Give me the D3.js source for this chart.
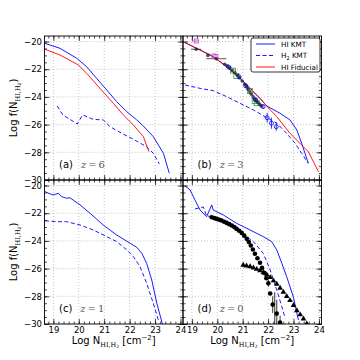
<!DOCTYPE html>
<html>
<head>
<meta charset="utf-8">
<script src="https://cdn.jsdelivr.net/npm/d3@7"></script>
<style>
  html, body { margin: 0; padding: 0; background: #fff; }
  text { font-family: "DejaVu Sans", sans-serif; }
</style>
</head>
<body>
<div id="chart"></div>
<script>
// axis ticks
const xTicks = [19, 20, 21, 22, 23, 24];
const yTicks = [-30, -28, -26, -24, -22, -20];

// panel (a) z=6
const aHiKmt = [[18.67,-20.13],[19.26,-20.49],[19.92,-21.21],[20.31,-21.82],[20.7,-22.66],[21.1,-23.5],[21.49,-24.34],[21.89,-25.07],[22.28,-25.66],[22.54,-26.1],[22.93,-26.87],[23.33,-28.07],[23.56,-29.51]];
const aH2Kmt = [[19.15,-24.65],[19.37,-25.3],[19.94,-25.95],[20.15,-25.3],[20.57,-25.62],[20.96,-25.66],[21.23,-26.15],[21.69,-26.63],[22.15,-27.06],[22.67,-27.6],[22.93,-28.07],[23.17,-28.84]];
const aHiFid = [[18.67,-20.56],[19.26,-20.97],[19.98,-21.69],[20.37,-22.42],[20.83,-23.38],[21.36,-24.46],[21.75,-25.3],[22.15,-26.03],[22.54,-26.87],[22.76,-27.95]];

// panel (b) z=3
const bHiKmt = [[18.73,-20.08],[19.32,-20.61],[19.84,-21.09],[20.37,-21.82],[20.89,-22.65],[21.35,-23.5],[21.68,-24.1],[21.94,-24.65],[22.47,-25.18],[22.86,-25.66],[23.13,-26.39],[23.32,-27.35],[23.45,-28.07],[23.58,-28.79]];
const bH2Kmt = [[18.73,-23.14],[19.32,-23.38],[19.84,-23.55],[20.37,-23.98],[20.89,-24.46],[21.42,-24.94],[21.88,-25.43],[22.34,-25.9],[22.73,-26.63],[23.06,-27.35],[23.32,-28.07],[23.58,-28.79]];
const bHiFid = [[18.73,-20.08],[19.32,-20.61],[19.84,-21.09],[20.37,-21.82],[20.89,-22.65],[21.35,-23.5],[21.68,-24.1],[21.94,-24.65],[22.34,-25.43],[22.86,-26.63],[23.39,-27.6],[23.58,-27.95],[23.98,-29.4]];
const bObsSquares = [[19.17,-19.96,0.12],[19.87,-21.04,0],[19.95,-21.1,0]];
const bObsBlack = [[19.17,-20.56,0.2],[19.63,-21.0,0],[19.96,-21.24,0.4],[20.29,-21.64,0],[20.39,-21.76,0],[20.49,-21.89,0],[20.59,-22.07,0],[20.69,-22.25,0],[20.79,-22.43,0],[20.88,-22.61,0],[20.98,-22.85,0],[21.08,-23.09,0],[21.15,-23.27,0],[21.21,-23.45,0],[21.28,-23.63,0],[21.34,-23.81,0],[21.41,-23.99,0],[21.47,-24.17,0],[21.54,-24.3,0],[21.6,-24.42,0],[21.67,-24.54,0],[21.73,-24.65,0]];
const bObsGreen = [[20.62,-22.1],[20.75,-22.49],[21.28,-23.57],[21.47,-24.3],[21.55,-24.45]];
const bObsBlue = [[20.45,-21.85,0.05],[20.85,-22.55,0.05],[21.12,-23.2,0.08],[21.5,-24.2,0.1],[21.8,-24.7,0.15],[21.96,-25.5,0.36],[22.13,-25.9,0.4],[22.32,-26.15,0.3]];

// panel (c) z=1
const cHiKmt = [[18.67,-20.44],[18.87,-20.6],[19.0,-20.68],[19.19,-20.56],[19.33,-20.8],[19.52,-20.92],[19.65,-20.88],[20.05,-21.4],[20.44,-22.0],[20.96,-22.85],[21.49,-23.57],[22.02,-24.17],[22.28,-24.46],[22.48,-24.9],[22.67,-25.62],[22.87,-26.82],[23.07,-28.5],[23.29,-30.0]];
const cH2Kmt = [[18.67,-22.54],[19.13,-22.61],[19.52,-22.61],[20.05,-22.85],[20.57,-23.21],[21.1,-23.69],[21.49,-24.05],[21.89,-24.65],[22.15,-25.14],[22.41,-25.86],[22.67,-27.06],[22.93,-28.5],[23.13,-29.71]];

// panel (d) z=0
const dHiKmt = [[18.73,-20.03],[18.93,-20.32],[19.12,-21.04],[19.32,-21.77],[19.58,-22.25],[19.78,-21.4],[19.84,-21.77],[20.24,-22.13],[20.76,-22.73],[21.29,-23.21],[21.81,-23.69],[22.14,-24.05],[22.34,-24.65],[22.54,-25.62],[22.73,-26.58],[22.99,-28.03],[23.19,-29.71]];
const dH2Kmt = [[19.12,-21.69],[19.45,-21.55],[19.58,-22.2],[19.84,-22.25],[20.37,-22.73],[20.89,-23.33],[21.42,-24.05],[21.81,-24.9],[22.08,-26.1],[22.34,-27.55],[22.54,-28.75],[22.67,-29.59]];
const dObsHi = [[19.78,-22.29],[19.88,-22.35],[19.98,-22.41],[20.08,-22.47],[20.17,-22.53],[20.27,-22.61],[20.37,-22.7],[20.47,-22.79],[20.57,-22.89],[20.67,-23.0],[20.76,-23.13],[20.86,-23.27],[20.96,-23.42],[21.06,-23.62],[21.16,-23.85],[21.24,-24.08],[21.32,-24.33],[21.4,-24.62],[21.48,-24.93],[21.58,-25.25],[21.68,-25.58],[21.76,-25.95],[21.85,-26.31],[21.93,-26.7],[22.01,-27.06],[22.08,-27.8],[22.18,-28.6],[22.34,-29.25],[22.47,-29.9]];
const dObsHiErr = [[22.01,-27.06,0.25],[22.18,-28.6,0.6],[22.26,-28.9,1.2],[22.34,-29.25,1.0],[22.47,-29.9,0.5]];
const dObsH2 = [[21.02,-25.75],[21.15,-25.8],[21.29,-25.85],[21.42,-25.94],[21.55,-26.04],[21.68,-26.15],[21.81,-26.28],[21.95,-26.45],[22.08,-26.64],[22.21,-26.87],[22.34,-27.12],[22.47,-27.4],[22.6,-27.7],[22.73,-28.0],[22.86,-28.3],[23.0,-28.65],[23.13,-29.03],[23.26,-29.33],[23.39,-29.63],[23.52,-29.98],[23.65,-30.35]];

const legendLabels = ['HI KMT', 'H2 KMT', 'HI Fiducial'];

const W = 360, H = 360;
const blue = '#0000ff', red = '#ff0000';
const svg = d3.select('#chart').append('svg').attr('width', W).attr('height', H);

const colX = [44.5, 183];
const rowY = [36, 180];
const pw = 138.5, ph = 144;

const x = d3.scaleLinear().domain([18.65, 24.1]).range([0, pw]);
const y = d3.scaleLinear().domain([-30, -19.6]).range([ph, 0]);
const line = d3.line().x(d => x(d[0])).y(d => y(d[1]));

const xMinor = d3.range(18.8, 24.1, 0.2).map(v => +v.toFixed(1));
const yMinor = d3.range(-30, -19.5, 0.5);

const panels = [
  { tag: '(a)', z: '6', col: 0, row: 0, hi: aHiKmt, h2: aH2Kmt, fid: aHiFid },
  { tag: '(b)', z: '3', col: 1, row: 0, hi: bHiKmt, h2: bH2Kmt, fid: bHiFid },
  { tag: '(c)', z: '1', col: 0, row: 1, hi: cHiKmt, h2: cH2Kmt },
  { tag: '(d)', z: '0', col: 1, row: 1, hi: dHiKmt, h2: dH2Kmt }
];

panels.forEach(p => {
  const g = svg.append('g').attr('transform', `translate(${colX[p.col]},${rowY[p.row]})`);
  const clipId = 'clip' + p.col + p.row;
  g.append('clipPath').attr('id', clipId).append('rect').attr('width', pw).attr('height', ph);

  // grid
  g.append('g').selectAll('line').data(xTicks).join('line')
    .attr('x1', d => x(d)).attr('x2', d => x(d)).attr('y1', 0).attr('y2', ph)
    .attr('stroke', '#aaa').attr('stroke-width', 0.7).attr('stroke-dasharray', '1,2');
  g.append('g').selectAll('line').data(yTicks).join('line')
    .attr('y1', d => y(d)).attr('y2', d => y(d)).attr('x1', 0).attr('x2', pw)
    .attr('stroke', '#aaa').attr('stroke-width', 0.7).attr('stroke-dasharray', '1,2');

  const plot = g.append('g').attr('clip-path', `url(#${clipId})`);

  plot.append('path').datum(p.h2).attr('d', line).attr('fill', 'none')
    .attr('stroke', blue).attr('stroke-width', 0.9).attr('stroke-dasharray', '4,2.5');
  plot.append('path').datum(p.hi).attr('d', line).attr('fill', 'none')
    .attr('stroke', blue).attr('stroke-width', 0.9);
  if (p.fid) {
    plot.append('path').datum(p.fid).attr('d', line).attr('fill', 'none')
      .attr('stroke', red).attr('stroke-width', 0.9);
  }

  // observations
  if (p.tag === '(b)') {
    const ob = plot.append('g');
    ob.selectAll('.xe').data(bObsBlack.filter(d => d[2] > 0)).join('line')
      .attr('x1', d => x(d[0] - d[2])).attr('x2', d => x(d[0] + d[2]))
      .attr('y1', d => y(d[1])).attr('y2', d => y(d[1])).attr('stroke', '#333').attr('stroke-width', 0.8);
    ob.selectAll('.xm').data(bObsSquares.filter(d => d[2] > 0)).join('line')
      .attr('x1', d => x(d[0] - d[2])).attr('x2', d => x(d[0] + d[2]))
      .attr('y1', d => y(d[1])).attr('y2', d => y(d[1])).attr('stroke', '#c040c0').attr('stroke-width', 0.8);
    ob.selectAll('.ye').data(bObsBlue).join('line')
      .attr('x1', d => x(d[0])).attr('x2', d => x(d[0]))
      .attr('y1', d => y(d[1] - d[2])).attr('y2', d => y(d[1] + d[2])).attr('stroke', blue).attr('stroke-width', 0.8);
    ob.selectAll('.sq').data(bObsSquares).join('rect')
      .attr('x', d => x(d[0]) - 2).attr('y', d => y(d[1]) - 2).attr('width', 4).attr('height', 4)
      .attr('fill', 'none').attr('stroke', '#c040c0').attr('stroke-width', 0.8);
    ob.selectAll('.gr').data(bObsGreen).join('rect')
      .attr('x', d => x(d[0]) - 2.5).attr('y', d => y(d[1]) - 2.5).attr('width', 5).attr('height', 5)
      .attr('fill', 'none').attr('stroke', '#30a030').attr('stroke-width', 0.8);
    ob.selectAll('.bk').data(bObsBlack).join('circle')
      .attr('cx', d => x(d[0])).attr('cy', d => y(d[1])).attr('r', 1.8)
      .attr('fill', '#223').attr('fill-opacity', 0.8);
    ob.selectAll('.bl').data(bObsBlue).join('circle')
      .attr('cx', d => x(d[0])).attr('cy', d => y(d[1])).attr('r', 2)
      .attr('fill', 'none').attr('stroke', blue).attr('stroke-width', 0.8);
  }

  if (p.tag === '(d)') {
    plot.selectAll('.err').data(dObsHiErr).join('line')
      .attr('x1', d => x(d[0])).attr('x2', d => x(d[0]))
      .attr('y1', d => y(d[1] - d[2])).attr('y2', d => y(d[1] + d[2])).attr('stroke', '#000').attr('stroke-width', 0.8);
    plot.selectAll('.hi').data(dObsHi).join('circle')
      .attr('cx', d => x(d[0])).attr('cy', d => y(d[1])).attr('r', 2.3).attr('fill', '#000');
    plot.selectAll('.h2').data(dObsH2).join('path')
      .attr('transform', d => `translate(${x(d[0])},${y(d[1])})`)
      .attr('d', d3.symbol(d3.symbolTriangle, 14)).attr('fill', '#000');
  }

  // axes with inward ticks on all sides
  const mk = (axis, scale, major, minor, showLabels, pad) => {
    const ax = g.append('g');
    ax.append('g').call(axis(scale).tickValues(minor).tickSize(-2.5).tickFormat(''));
    const m = ax.append('g').call(axis(scale).tickValues(major).tickSize(-5).tickPadding(pad)
      .tickFormat(showLabels ? (d => d3.format('d')(d).replace('-', '\u2212')) : ''));
    ax.selectAll('.domain').remove();
    ax.selectAll('line').attr('stroke', '#000').attr('stroke-width', 0.7);
    m.selectAll('text').attr('font-size', 8.5).attr('fill', '#000').attr('font-family', 'DejaVu Sans');
    return ax;
  };
  mk(d3.axisBottom, x, xTicks, xMinor, p.row === 1, 3).attr('transform', `translate(0,${ph})`);
  mk(d3.axisTop, x, xTicks, xMinor, false, 3);
  mk(d3.axisLeft, y, yTicks, yMinor, p.col === 0, 2.5);
  mk(d3.axisRight, y, yTicks, yMinor, false, 3).attr('transform', `translate(${pw},0)`);

  g.append('rect').attr('width', pw).attr('height', ph).attr('fill', 'none')
    .attr('stroke', '#000').attr('stroke-width', 0.9);

  // panel label
  const t = g.append('text').attr('x', 14.5).attr('y', ph - 12).attr('font-size', 10);
  t.append('tspan').text(p.tag);
  t.append('tspan').attr('dx', 8).attr('font-family', 'DejaVu Serif').attr('font-style', 'italic')
    .attr('fill', '#555').text('z');
  t.append('tspan').attr('font-family', 'DejaVu Serif').attr('fill', '#555').text('\u2009=\u2009' + p.z);

  // axis titles
  if (p.col === 0) {
    const yl = svg.append('text')
      .attr('transform', `translate(17,${rowY[p.row] + ph / 2}) rotate(-90)`)
      .attr('text-anchor', 'middle').attr('font-size', 10);
    yl.append('tspan').text('Log f(N');
    yl.append('tspan').attr('font-size', 6.5).attr('dy', 2.5).attr('font-family', 'DejaVu Serif').text('HI,H');
    yl.append('tspan').attr('font-size', 4.5).attr('dy', 1.5).text('2');
    yl.append('tspan').attr('dy', -4).text(')');
  }
  if (p.row === 1) {
    const xl = svg.append('text')
      .attr('x', colX[p.col] + pw / 2).attr('y', 344)
      .attr('text-anchor', 'middle').attr('font-size', 10);
    xl.append('tspan').text('Log N');
    xl.append('tspan').attr('font-size', 6.5).attr('dy', 2.5).attr('font-family', 'DejaVu Serif').text('HI,H');
    xl.append('tspan').attr('font-size', 4.5).attr('dy', 1.5).text('2');
    xl.append('tspan').attr('dy', -4).text(' [cm');
    xl.append('tspan').attr('font-size', 7).attr('dy', -4).text('\u22122');
    xl.append('tspan').attr('dy', 4).text(']');
  }
});

// legend in panel (b)
const lg = svg.append('g').attr('transform', 'translate(251,38)');
lg.append('rect').attr('width', 69).attr('height', 34).attr('rx', 2)
  .attr('fill', '#fff').attr('stroke', '#000').attr('stroke-width', 0.8);
const lgStyles = [
  { c: blue, dash: null },
  { c: blue, dash: '4,2.5' },
  { c: red, dash: null }
];
legendLabels.forEach((lab, i) => {
  const yy = 6 + i * 11.5;
  lg.append('line').attr('x1', 5).attr('x2', 24).attr('y1', yy).attr('y2', yy)
    .attr('stroke', lgStyles[i].c).attr('stroke-width', 0.9)
    .attr('stroke-dasharray', lgStyles[i].dash);
  const tx = lg.append('text').attr('x', 30).attr('y', yy + 2.6).attr('font-size', 7.2);
  if (lab === 'H2 KMT') {
    tx.append('tspan').text('H');
    tx.append('tspan').attr('font-size', 5).attr('dy', 1.5).text('2');
    tx.append('tspan').attr('dy', -1.5).text(' KMT');
  } else {
    tx.text(lab);
  }
});
</script>
</body>
</html>
